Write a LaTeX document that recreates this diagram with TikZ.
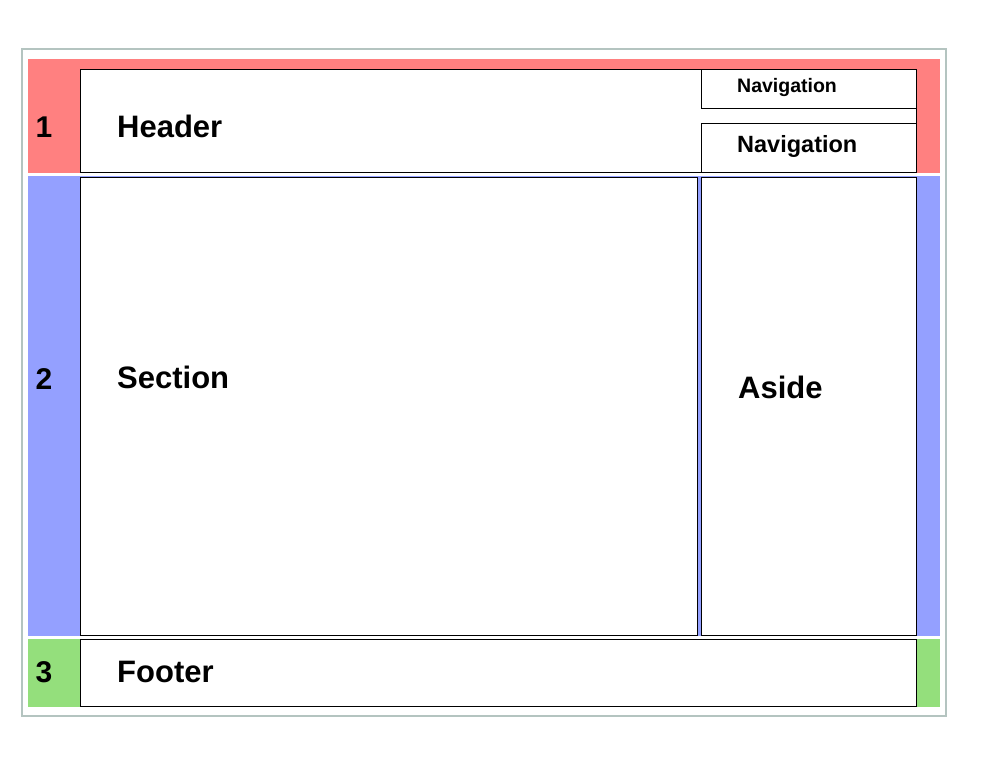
\documentclass[tikz,border=0pt]{standalone}
\usepackage{fontspec}
\setmainfont{Liberation Sans}
\definecolor{bandred}{HTML}{FF8080}
\definecolor{bandblue}{HTML}{94A0FF}
\definecolor{bandgreen}{HTML}{94DF7C}
\definecolor{framegray}{HTML}{B4C4C0}
\begin{document}
\begin{tikzpicture}[x=1pt,y=-1pt,
  band/.style={fill=#1,draw=none},
  area/.style={draw=black,fill=white,line width=1pt},
  lbl/.style={anchor=base west,inner sep=0pt,font=\bfseries\fontsize{31}{31}\selectfont},
  num/.style={anchor=base,inner sep=0pt,font=\bfseries\fontsize{30}{30}\selectfont}]
\useasboundingbox[fill=white] (0,0) rectangle (1000,768);
\draw[framegray,line width=1.5pt,fill=white] (22,49) rectangle (946,716);
\path[band=bandred] (28,59) rectangle (940,173);
\path[band=bandblue] (28,176) rectangle (940,636);
\path[band=bandgreen] (28,639) rectangle (940,707);
\draw[area] (80,69) rectangle (916,172);
\draw[area] (701,69) rectangle (916,108);
\draw[area] (701,123) rectangle (916,172);
\draw[area] (80,177) rectangle (697,635);
\draw[area] (701,177) rectangle (916,635);
\draw[area] (80,639) rectangle (916,706);
\node[num] (n1) at (44,137) {1};
\node[num] (n2) at (44,389) {2};
\node[num] (n3) at (44,682) {3};
\node[lbl] (header) at (117,137) {Header};
\node[lbl,font=\bfseries\fontsize{19.5}{19.5}\selectfont] (nav1) at (737,92.5) {Navigation};
\node[lbl,font=\bfseries\fontsize{23.5}{23.5}\selectfont] (nav2) at (737,152.5) {Navigation};
\node[lbl] (section) at (117,388) {Section};
\node[lbl] (aside) at (738,398) {Aside};
\node[lbl] (footer) at (117,682) {Footer};
\end{tikzpicture}
\end{document}
